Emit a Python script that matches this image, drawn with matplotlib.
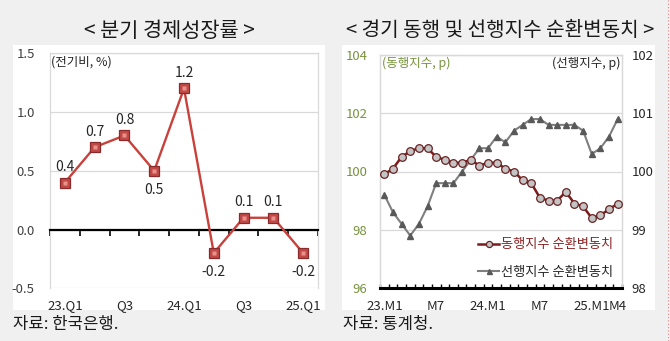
import matplotlib
matplotlib.use('Agg')
import matplotlib.pyplot as plt
from matplotlib.lines import Line2D
from matplotlib.patches import Rectangle
from matplotlib.ticker import FormatStrFormatter
import numpy as np

plt.rcParams['font.family'] = ['Noto Sans CJK KR', 'DejaVu Sans']

# Quarterly GDP growth (q/q, %)
quarters = ['23.Q1', 'Q2', 'Q3', 'Q4', '24.Q1', 'Q2', 'Q3', 'Q4', '25.Q1']
quarter_tick_labels = ['23.Q1', '', 'Q3', '', '24.Q1', '', 'Q3', '', '25.Q1']
gdp_growth = [0.4, 0.7, 0.8, 0.5, 1.2, -0.2, 0.1, 0.1, -0.2]
label_below = [False, False, False, True, False, True, False, False, True]

# Monthly cyclical components, 2023.01 - 2025.04
months = ['23.M1', 'M2', 'M3', 'M4', 'M5', 'M6', 'M7', 'M8', 'M9', 'M10', 'M11', 'M12',
          '24.M1', 'M2', 'M3', 'M4', 'M5', 'M6', 'M7', 'M8', 'M9', 'M10', 'M11', 'M12',
          '25.M1', 'M2', 'M3', 'M4']
month_tick_labels = ['23.M1', '', '', '', '', '', 'M7', '', '', '', '', '',
                     '24.M1', '', '', '', '', '', 'M7', '', '', '', '', '',
                     '25.M1', '', '', 'M4']
coincident = [99.9, 100.1, 100.5, 100.7, 100.8, 100.8, 100.5, 100.4, 100.3, 100.3,
              100.4, 100.2, 100.3, 100.3, 100.1, 100.0, 99.7, 99.6, 99.1, 99.0,
              99.0, 99.3, 98.9, 98.8, 98.4, 98.5, 98.7, 98.9]
leading = [99.6, 99.3, 99.1, 98.9, 99.1, 99.4, 99.8, 99.8, 99.8, 100.0,
           100.2, 100.4, 100.4, 100.6, 100.5, 100.7, 100.8, 100.9, 100.9, 100.8,
           100.8, 100.8, 100.8, 100.7, 100.3, 100.4, 100.6, 100.9]

W, H = 670, 341
BG = '#f0f0f0'
GRID = '#d9d9d9'
TXT = '#262626'
OLIVE = '#77933c'


def fx(px):
    return px / W


def fy(py):
    return 1 - py / H


fig = plt.figure(figsize=(W / 100, H / 100), dpi=100, facecolor=BG)

# white chart panels
for x0, x1 in [(13, 325), (342, 655)]:
    fig.patches.append(Rectangle((fx(x0), fy(310)), (x1 - x0) / W, 265 / H,
                                 transform=fig.transFigure, facecolor='white',
                                 edgecolor='none', zorder=-5))

# ---------------- left: quarterly growth ----------------
ax1 = fig.add_axes([fx(50), fy(288.3), 268 / W, 235.1 / H])
ax1.set_facecolor('white')
xq = np.arange(len(quarters))
ax1.plot(xq, gdp_growth, color='#c8413b', lw=1.7, zorder=3)
ax1.plot(xq, gdp_growth, ls='none', marker='s', ms=7.5, mfc='#c24a46',
         mec='#8a2a2a', mew=0.9, zorder=4)
ax1.plot(xq, gdp_growth, ls='none', marker='s', ms=2.5, mfc='#e8908a',
         mec='none', zorder=5)
ax1.set_xlim(-0.5, len(quarters) - 0.5)
ax1.set_ylim(-0.5, 1.5)
ax1.set_yticks([-0.5, 0.0, 0.5, 1.0, 1.5])
ax1.yaxis.set_major_formatter(FormatStrFormatter('%.1f'))
ax1.yaxis.grid(True, color=GRID, lw=0.9)
ax1.set_axisbelow(True)
for s in ['left', 'top', 'right']:
    ax1.spines[s].set_color(GRID)
    ax1.spines[s].set_linewidth(0.9)
ax1.spines['bottom'].set_position(('data', 0))
ax1.spines['bottom'].set_color('black')
ax1.spines['bottom'].set_linewidth(1.6)
ax1.set_xticks(np.arange(-0.5, len(quarters), 1))
ax1.set_xticklabels([])
ax1.tick_params(axis='x', direction='out', length=4, width=1.2, color='black')
ax1.tick_params(axis='y', length=0, pad=11, labelsize=9.5, labelcolor='#404040')

sec = ax1.secondary_xaxis('bottom')
sec.set_xticks(xq, quarter_tick_labels)
sec.tick_params(length=0, pad=8, labelsize=9.5, labelcolor=TXT)
sec.spines['bottom'].set_visible(False)

for i, v in enumerate(gdp_growth):
    off = -14 if label_below[i] else 11
    ax1.annotate(f'{v:.1f}', (i, v), xytext=(0, off), textcoords='offset points',
                 ha='center', va='center', fontsize=10, color=TXT)

ax1.text(0.005, 0.963, '(전기비, %)', transform=ax1.transAxes, ha='left',
         va='center', fontsize=9, color=TXT)

# ---------------- right: cyclical components ----------------
ax2 = fig.add_axes([fx(380), fy(288), 242 / W, 233 / H])
ax2r = ax2.twinx()
ax2r.set_zorder(0)
ax2.set_zorder(1)
ax2.patch.set_visible(False)
ax2r.patch.set_facecolor('white')

xm = np.arange(len(months))
lead_line, = ax2r.plot(xm, leading, color='#7f7f7f', lw=1.5, marker='^', ms=4.5,
                       mfc='#595959', mec='#595959', zorder=3)
coin_line, = ax2.plot(xm, coincident, color='#7b1c1c', lw=1.8, marker='o', ms=5.5,
                      mfc='#c4c4c4', mec='#6b2222', mew=0.9, zorder=4)

ax2.set_xlim(-0.5, len(months) - 0.5)
ax2.set_ylim(96, 104)
ax2.set_yticks([96, 98, 100, 102, 104])
ax2r.set_ylim(98, 102)
ax2r.set_yticks([98, 99, 100, 101, 102])
ax2r.yaxis.grid(True, color=GRID, lw=0.9)

ax2.set_xticks(xm, month_tick_labels)
ax2.set_xticks(np.arange(-0.5, len(months), 1), minor=True)
ax2.tick_params(axis='x', which='major', length=0, pad=9, labelsize=9.5, labelcolor=TXT)
ax2.tick_params(axis='x', which='minor', direction='in', length=3, width=1, color='black')
ax2.tick_params(axis='y', length=0, pad=9, labelsize=9.5, labelcolor=OLIVE)
ax2r.tick_params(axis='y', length=0, pad=7, labelsize=9.5, labelcolor=TXT)

for s in ['left', 'top', 'right']:
    ax2.spines[s].set_color(GRID)
    ax2.spines[s].set_linewidth(0.9)
    ax2r.spines[s].set_color(GRID)
    ax2r.spines[s].set_linewidth(0.9)
ax2r.spines['bottom'].set_visible(False)
ax2.spines['bottom'].set_color('black')
ax2.spines['bottom'].set_linewidth(2.2)

ax2.text(0.01, 0.966, '(동행지수, p)', transform=ax2.transAxes, ha='left',
         va='center', fontsize=9, color=OLIVE)
ax2.text(0.995, 0.966, '(선행지수, p)', transform=ax2.transAxes, ha='right',
         va='center', fontsize=9, color=TXT)

leg = ax2.legend([coin_line, lead_line], ['동행지수 순환변동치', '선행지수 순환변동치'],
                 loc='lower right', bbox_to_anchor=(1.0, 0.0), frameon=False,
                 fontsize=9.5, handlelength=1.6, handletextpad=0.1,
                 labelspacing=1.1, borderaxespad=0.3, markerscale=0.8)
leg.get_texts()[0].set_color('#8b2323')
leg.get_texts()[1].set_color(TXT)

# titles and sources
fig.text(fx(169), fy(31), '< 분기 경제성장률 >', ha='center', va='center',
         fontsize=15, color='#1a1a1a')
fig.text(fx(500), fy(31), '< 경기 동행 및 선행지수 순환변동치 >', ha='center',
         va='center', fontsize=14.5, color='#1a1a1a')
fig.text(fx(13), fy(325), '자료: 한국은행.', ha='left', va='center',
         fontsize=12, color='#1a1a1a')
fig.text(fx(343), fy(325), '자료: 통계청.', ha='left', va='center',
         fontsize=12, color='#1a1a1a')

# dotted edge marker on the right border
fig.add_artist(Line2D([fx(667.5)] * 2, [0, 1], transform=fig.transFigure,
                      color='#f08080', lw=0.8, ls=(0, (1, 2))))

fig.savefig('out.png', dpi=100, facecolor=fig.get_facecolor())
